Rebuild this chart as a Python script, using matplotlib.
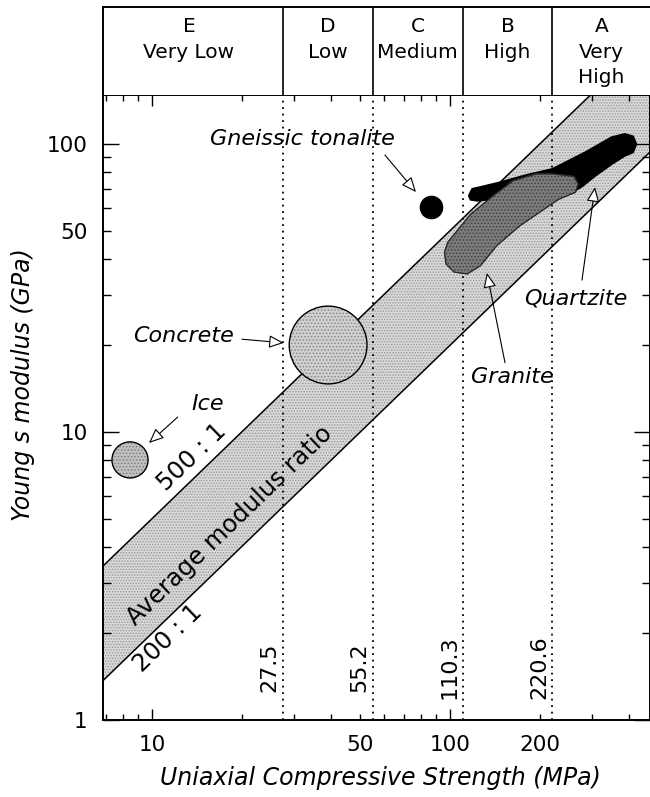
import numpy as np
import matplotlib.pyplot as plt
from matplotlib.ticker import FixedLocator, FuncFormatter

plt.rcParams['font.family'] = 'DejaVu Sans'
plt.rcParams['hatch.linewidth'] = 0.7

# axis limits: uniaxial compressive strength (MPa), Young's modulus (GPa)
ucs_lim = (6.85, 469)
e_lim = (1, 148)

# strength classes shown in the header
class_bounds = [27.5, 55.2, 110.3, 220.6]
class_letters = ['E', 'D', 'C', 'B', 'A']
class_words = [['Very Low'], ['Low'], ['Medium'], ['High'], ['Very', 'High']]
class_centres = [13.3, 39.0, 78.0, 156.0, 322.0]

# modulus ratio band (E / UCS)
ratio_lo = 200
ratio_hi = 500

# single materials (UCS MPa, E GPa)
ice = (8.44, 8.0)
concrete = (39.0, 20.05)
tonalite = (86.3, 60.4)

# outlines of the granite and quartzite fields
granite_ucs = [98.3, 117.3, 140.0, 163.0, 194.7, 220.9, 260.5, 269.2, 263.9,
               232.5, 215.4, 171.6, 143.7, 126.6, 114.4, 103.3, 97.0, 95.8]
granite_e = [45.6, 57.1, 66.2, 74.6, 78.7, 78.7, 77.2, 72.6, 68.0,
             64.4, 61.1, 52.0, 44.4, 37.8, 35.4, 35.9, 38.3, 42.1]
quartzite_ucs = [115.8, 118.8, 129.8, 147.4, 180.5, 220.9, 284.8, 348.5, 386.0,
                 411.1, 421.6, 411.1, 386.0, 348.5, 307.2, 277.5, 257.2, 140.0,
                 123.4, 117.3]
quartzite_e = [66.2, 69.8, 71.3, 73.6, 78.0, 81.9, 93.6, 105.5, 108.3,
               106.3, 100.0, 93.6, 91.1, 85.2, 77.6, 71.3, 68.0, 64.4,
               63.6, 64.1]

# labels with arrows
names = ['Gneissic tonalite', 'Concrete', 'Ice', 'Granite', 'Quartzite']
name_xy = [(32.1, 99.2), (12.75, 20.5), (15.4, 11.9), (162, 14.8), (263.8, 27.8)]
arrow_from = [(60.5, 91.6), (20.05, 21.0), (12.2, 11.27), (153, 17.4), (277.3, 33.7)]
arrow_to = [(76.9, 68.1), (27.7, 20.4), (9.77, 9.16), (133, 35.7), (306.6, 70.9)]

# texts along the band
band_text = ['500 : 1', 'Average modulus ratio', '200 : 1']
band_text_xy = [(13.6, 8.19), (18.3, 4.72), (11.3, 1.93)]

fig = plt.figure(figsize=(6.5, 7.97), dpi=100)
ax = fig.add_axes([103 / 650, 77 / 797, 547 / 650, 625 / 797])
hx = fig.add_axes([103 / 650, 702 / 797, 547 / 650, 88 / 797])

ax.set_xscale('log')
ax.set_yscale('log')
ax.set_xlim(ucs_lim)
ax.set_ylim(e_lim)

# band between 200:1 and 500:1
bx = np.array(ucs_lim)
ax.fill_between(bx, bx * ratio_lo / 1000, bx * ratio_hi / 1000,
                facecolor='#d9d9d9', edgecolor='#999999', hatch='......',
                linewidth=0, zorder=1)
ax.plot(bx, bx * ratio_lo / 1000, color='black', lw=1.1, zorder=3)
ax.plot(bx, bx * ratio_hi / 1000, color='black', lw=1.1, zorder=3)

for b in class_bounds:
    ax.axvline(b, color='black', lw=1.3, ls=(0, (1, 2.6)), zorder=2)
    ax.annotate(f'{b}', xy=(b, 0.085), xycoords=('data', 'axes fraction'),
                xytext=(-2.5, 0), textcoords='offset points', rotation=90,
                ha='right', va='center', fontsize=16)

# materials
ax.scatter([ice[0]], [ice[1]], s=26 ** 2, facecolor='#c0c0c0', edgecolor='#808080',
           linewidths=0, hatch='.....', zorder=4)
ax.scatter([ice[0]], [ice[1]], s=26 ** 2, facecolor='none', edgecolor='black',
           linewidths=1.0, zorder=4)
ax.scatter([concrete[0]], [concrete[1]], s=56 ** 2, facecolor='#d0d0d0',
           edgecolor='#888888', linewidths=0, hatch='.....', zorder=4)
ax.scatter([concrete[0]], [concrete[1]], s=56 ** 2, facecolor='none',
           edgecolor='black', linewidths=1.0, zorder=4)
ax.fill(quartzite_ucs, quartzite_e, facecolor='black', edgecolor='black',
        lw=1.5, joinstyle='round', zorder=4)
ax.fill(granite_ucs, granite_e, facecolor='#7c7c7c', edgecolor='#404040',
        hatch='.....', lw=0.8, joinstyle='round', zorder=5)
ax.fill(granite_ucs, granite_e, facecolor='none', edgecolor='#2a2a2a',
        lw=0.8, joinstyle='round', zorder=5)
ax.scatter([tonalite[0]], [tonalite[1]], s=16 ** 2, color='black', zorder=5)

for name, xy, a0, a1 in zip(names, name_xy, arrow_from, arrow_to):
    ax.text(xy[0], xy[1], name, ha='center', va='baseline', fontsize=16,
            style='italic', zorder=6)
    ax.annotate('', xy=a1, xytext=a0,
                arrowprops=dict(arrowstyle='-|>,head_length=0.65,head_width=0.28',
                                mutation_scale=14, fc='white', ec='black', lw=0.8,
                                shrinkA=0, shrinkB=0), zorder=6)

# angle of the ratio lines on screen
p0 = ax.transData.transform((10, 5))
p1 = ax.transData.transform((100, 50))
angle = np.degrees(np.arctan2(p1[1] - p0[1], p1[0] - p0[0]))
for t, xy in zip(band_text, band_text_xy):
    ax.text(xy[0], xy[1], t, rotation=angle, rotation_mode='anchor',
            ha='center', va='center', fontsize=17.5, zorder=6)

# ticks
ax.xaxis.set_major_locator(FixedLocator([10, 100]))
ax.xaxis.set_minor_locator(FixedLocator([7, 8, 9, 20, 30, 40, 50, 60, 70, 80, 90,
                                         200, 300, 400]))
ax.xaxis.set_major_formatter(FuncFormatter(lambda v, p: f'{v:g}'))
ax.xaxis.set_minor_formatter(FuncFormatter(lambda v, p: f'{v:g}' if v in (50, 200) else ''))
ax.yaxis.set_major_locator(FixedLocator([1, 10, 100]))
ax.yaxis.set_minor_locator(FixedLocator([2, 3, 4, 5, 6, 7, 8, 9, 20, 30, 40, 50,
                                         60, 70, 80, 90]))
ax.yaxis.set_major_formatter(FuncFormatter(lambda v, p: f'{v:g}'))
ax.yaxis.set_minor_formatter(FuncFormatter(lambda v, p: '50' if v == 50 else ''))

ax.tick_params(which='both', direction='in', top=True, right=True,
               labelsize=15.5, width=1.0, pad=11)
ax.tick_params(axis='x', which='major', length=8)
ax.tick_params(axis='x', which='minor', length=4)
ax.tick_params(axis='y', which='major', length=11.5)
ax.tick_params(axis='y', which='minor', length=6)
for s in ax.spines.values():
    s.set_linewidth(1.4)

ax.set_xlabel('Uniaxial Compressive Strength (MPa)', fontsize=17, style='italic')
ax.set_ylabel('Young s modulus (GPa)', fontsize=17, style='italic')
ax.xaxis.set_label_coords(0.507, -0.0736)
ax.yaxis.set_label_coords(-0.124, 0.536)

# header with strength classes
hx.set_xscale('log')
hx.set_xlim(ucs_lim)
hx.set_ylim(0, 1)
hx.set_xticks([])
hx.set_yticks([])
hx.minorticks_off()
hx.spines['right'].set_visible(False)
hx.spines['bottom'].set_visible(False)
for s in ('top', 'left'):
    hx.spines[s].set_linewidth(1.4)
for b in class_bounds:
    hx.axvline(b, color='black', lw=1.2)
baselines = [0.716, 0.426, 0.136]
for xc, letter, words in zip(class_centres, class_letters, class_words):
    for line, yb in zip([letter] + words, baselines):
        hx.text(xc, yb, line, ha='center', va='baseline', fontsize=14.5,
                transform=hx.get_xaxis_transform())

fig.savefig('out.png', dpi=100)
